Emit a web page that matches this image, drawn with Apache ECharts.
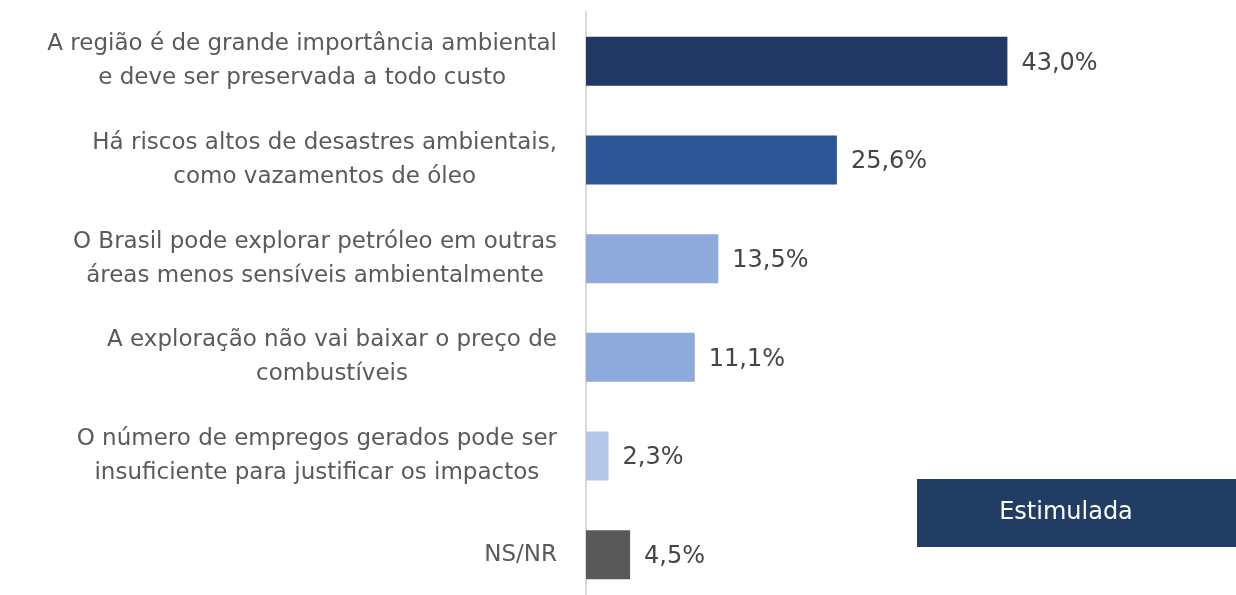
<!DOCTYPE html>
<html>
<head>
<meta charset="utf-8">
<script src="https://cdn.jsdelivr.net/npm/echarts@6/dist/echarts.min.js"></script>
<style>
  html, body { margin: 0; padding: 0; background: #ffffff; }
  #chart { width: 1236px; height: 595px; }
</style>
</head>
<body>
<div id="chart"></div>
<script>
// Reasons given (two-line labels), top to bottom
const categories = [
  'A região é de grande importância ambiental\ne deve ser preservada a todo custo',
  'Há riscos altos de desastres ambientais,\ncomo vazamentos de óleo',
  'O Brasil pode explorar petróleo em outras\náreas menos sensíveis ambientalmente',
  'A exploração não vai baixar o preço de\ncombustíveis',
  'O número de empregos gerados pode ser\ninsuficiente para justificar os impactos',
  'NS/NR'
];
// Share of respondents, %
const values = [43.0, 25.6, 13.5, 11.1, 2.3, 4.5];
const barColors = ['#213864', '#2e5596', '#8faadc', '#8faadc', '#b4c7e7', '#595959'];
const badgeText = 'Estimulada';

const fontFamily = "'DejaVu Sans', 'Noto Sans', sans-serif";

const chart = echarts.init(document.getElementById('chart'), null, { renderer: 'canvas' });

chart.setOption({
  backgroundColor: '#ffffff',
  animation: false,
  grid: { left: 586, top: 12, width: 588, height: 592, outerBoundsMode: 'none', containLabel: false },
  xAxis: {
    type: 'value',
    min: 0,
    max: 60,
    show: false
  },
  yAxis: {
    type: 'category',
    inverse: true,
    data: categories,
    axisLine: { show: true, lineStyle: { color: '#d9d9d9', width: 2 } },
    axisTick: { show: false },
    splitLine: { show: false },
    axisLabel: {
      margin: 29,
      align: 'right',
      // each line centred inside the label block, block flush against the axis
      formatter: v => v.split('\n').map(line => '{c|' + line + '}').join('\n'),
      rich: {
        c: {
          align: 'center',
          color: '#5a5a5a',
          fontFamily: fontFamily,
          fontSize: 23,
          lineHeight: 34
        }
      }
    }
  },
  series: [{
    type: 'bar',
    barWidth: 49,
    data: values.map((v, i) => ({ value: v, itemStyle: { color: barColors[i] } })),
    label: {
      show: true,
      position: 'right',
      distance: 14,
      offset: [0, 2],
      color: '#454545',
      fontFamily: fontFamily,
      fontSize: 24,
      formatter: p => p.value.toFixed(1).replace('.', ',') + '%'
    }
  }],
  graphic: [{
    type: 'group',
    left: 917,
    top: 479,
    children: [
      { type: 'rect', shape: { x: 0, y: 0, width: 319, height: 68 }, style: { fill: '#223d64' } },
      {
        type: 'text',
        x: 149, y: 34,
        style: {
          text: badgeText, fill: '#ffffff', fontFamily: fontFamily, fontSize: 24,
          align: 'center', verticalAlign: 'middle'
        }
      }
    ]
  }]
});
</script>
</body>
</html>
